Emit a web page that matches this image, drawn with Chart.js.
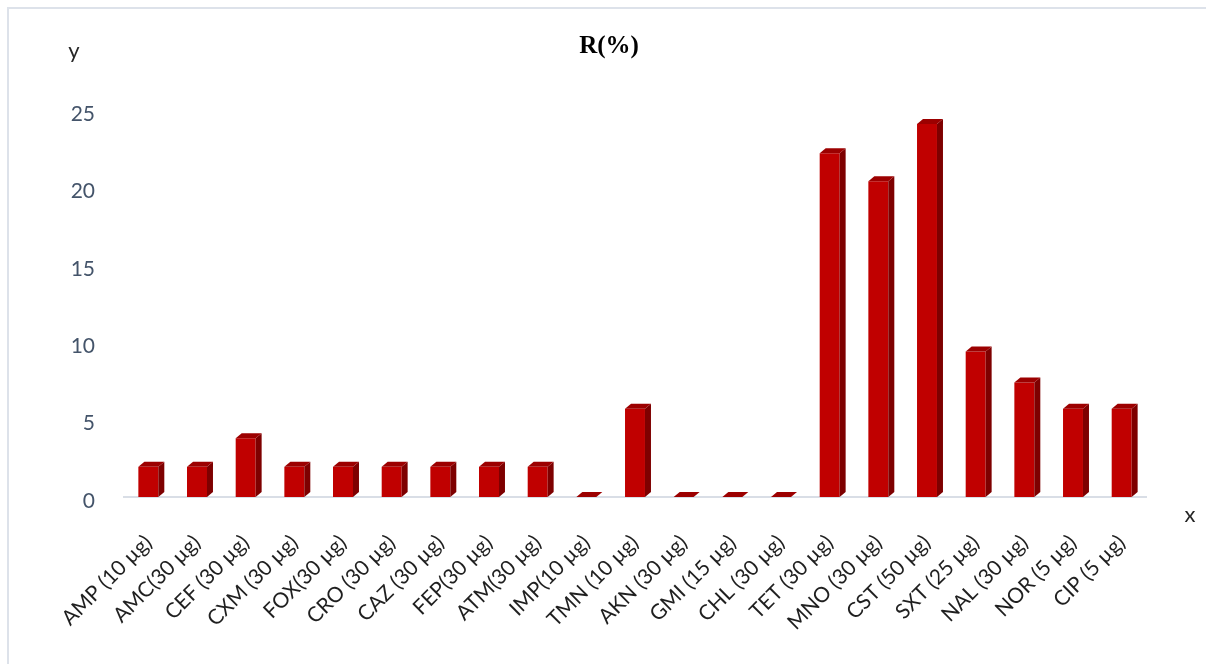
<!DOCTYPE html>
<html>
<head>
<meta charset="utf-8">
<script src="https://cdn.jsdelivr.net/npm/chart.js@4"></script>
<style>
    html, body { margin: 0; padding: 0; background: #fff; }
    #wrap { width: 1206px; height: 664px; position: relative; }
</style>
</head>
<body>
<div id="wrap"><canvas id="resistChart" width="1206" height="664"></canvas></div>
<script>
const categories = ['AMP (10 µg)', 'AMC(30 µg)', 'CEF (30 µg)', 'CXM (30 µg)', 'FOX(30 µg)',
    'CRO (30 µg)', 'CAZ (30 µg)', 'FEP(30 µg)', 'ATM(30 µg)', 'IMP(10 µg)',
    'TMN (10 µg)', 'AKN (30 µg)', 'GMI (15 µg)', 'CHL (30 µg)', 'TET (30 µg)',
    'MNO (30 µg)', 'CST (50 µg)', 'SXT (25 µg)', 'NAL (30 µg)', 'NOR (5 µg)', 'CIP (5 µg)'];
const resistance = [1.95, 1.95, 3.8, 1.95, 1.95, 1.95, 1.95, 1.95, 1.95, 0,
    5.7, 0, 0, 0, 22.2, 20.4, 24.1, 9.4, 7.4, 5.7, 5.7];
const yTicks = [0, 5, 10, 15, 20, 25];
const chartTitle = 'R(%)';

document.addEventListener('DOMContentLoaded', () => {
    // faux 3D: side and top faces for every bar, taken from the bar elements
    const bar3d = {
        id: 'bar3d',
        afterDatasetsDraw(chart) {
            const ctx = chart.ctx;
            const dx = 6, dy = 5;
            chart.getDatasetMeta(0).data.forEach(bar => {
                const p = bar.getProps(['x', 'y', 'base', 'width'], true);
                const left = p.x - p.width / 2, right = p.x + p.width / 2;
                ctx.save();
                ctx.fillStyle = '#7e0000';
                ctx.beginPath();
                ctx.moveTo(right, p.y);
                ctx.lineTo(right + dx, p.y - dy);
                ctx.lineTo(right + dx, p.base - dy);
                ctx.lineTo(right, p.base);
                ctx.closePath();
                ctx.fill();
                ctx.fillStyle = '#9c0000';
                ctx.beginPath();
                ctx.moveTo(left, p.y);
                ctx.lineTo(left + dx, p.y - dy);
                ctx.lineTo(right + dx, p.y - dy);
                ctx.lineTo(right, p.y);
                ctx.closePath();
                ctx.fill();
                ctx.restore();
            });
        }
    };

    const extras = {
        id: 'extras',
        beforeDraw(chart) {
            const ctx = chart.ctx;
            ctx.save();
            ctx.strokeStyle = '#dde2ea';
            ctx.lineWidth = 2;
            ctx.beginPath();
            ctx.moveTo(8, 664);
            ctx.lineTo(8, 8);
            ctx.lineTo(1206, 8);
            ctx.stroke();
            ctx.restore();
        },
        afterDraw(chart) {
            const ctx = chart.ctx;
            ctx.save();
            ctx.fillStyle = '#000';
            ctx.font = 'bold 25px "Liberation Serif"';
            ctx.textAlign = 'center';
            ctx.textBaseline = 'alphabetic';
            ctx.fillText(chartTitle, 609, 53);
            ctx.fillStyle = '#262626';
            ctx.font = '22px Lato';
            ctx.fillText('y', 74, 58);
            ctx.fillText('x', 1190, 522);
            ctx.restore();
        }
    };

    const ctx = document.getElementById('resistChart').getContext('2d');
    new Chart(ctx, {
        type: 'bar',
        data: {
            labels: categories,
            datasets: [{
                data: resistance,
                backgroundColor: '#c00000',
                borderWidth: 0,
                barPercentage: 0.41,
                categoryPercentage: 1
            }]
        },
        options: {
            responsive: false,
            animation: false,
            events: [],
            layout: { padding: { top: 110, left: 8, right: 60, bottom: 0 } },
            scales: {
                x: {
                    grid: { display: false, drawTicks: false },
                    border: { color: '#d9dee6', width: 2 },
                    ticks: {
                        color: '#1f1f1f',
                        font: { family: 'Lato', size: 21 },
                        minRotation: 45,
                        maxRotation: 45,
                        autoSkip: false,
                        padding: 33
                    },
                    afterFit: (scale) => { scale.height = 167; }
                },
                y: {
                    min: 0,
                    max: 25,
                    afterBuildTicks: (scale) => { scale.ticks = yTicks.map(v => ({ value: v })); },
                    grid: { display: false, drawTicks: false },
                    border: { display: false },
                    ticks: {
                        color: '#44546a',
                        font: { family: 'Lato', size: 21 },
                        padding: 29,
                        labelOffset: 4
                    },
                    afterFit: (scale) => { scale.width = 116; }
                }
            },
            plugins: {
                legend: { display: false },
                tooltip: { enabled: false }
            }
        },
        plugins: [bar3d, extras]
    });
});
</script>
</body>
</html>
